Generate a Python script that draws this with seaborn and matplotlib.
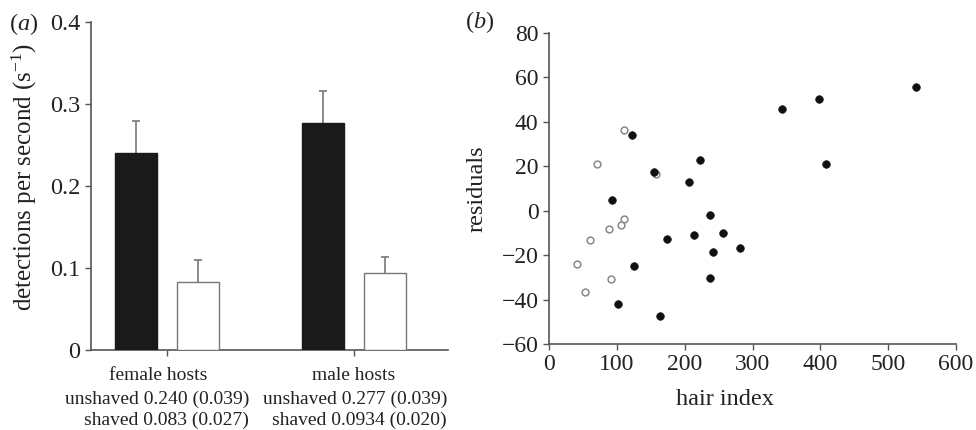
import numpy as np
import pandas as pd
import seaborn as sns
import matplotlib.pyplot as plt
from matplotlib.transforms import blended_transform_factory, ScaledTranslation

# panel (a) data
hosts = ['female hosts', 'male hosts']
treatments = ['unshaved', 'shaved']
unshaved_mean = [0.240, 0.277]
unshaved_se = [0.039, 0.039]
shaved_mean = [0.083, 0.0934]
shaved_se = [0.027, 0.020]
stat_lines = ['unshaved 0.240 (0.039)\nshaved 0.083 (0.027)',
              'unshaved 0.277 (0.039)\nshaved 0.0934 (0.020)']

# panel (b) data
filled_x = [541, 398, 344, 408, 122, 222, 155, 206, 93, 237, 214, 257, 174, 281, 242, 125, 237, 102, 163]
filled_y = [55.7, 50.4, 45.9, 20.9, 33.9, 22.7, 17.4, 12.9, 4.7, -2.1, -10.8, -10.0, -12.6, -16.8, -18.6, -24.7, -30.4, -42.0, -47.3]
open_x = [111, 71, 158, 110, 106, 89, 60, 41, 92, 53]
open_y = [36.2, 21.2, 16.4, -3.7, -6.6, -8.1, -13.0, -24.0, -30.6, -36.6]

sns.set_style('ticks')
plt.rcParams['font.family'] = ['Liberation Serif', 'DejaVu Serif']
plt.rcParams['mathtext.fontset'] = 'custom'
plt.rcParams['mathtext.rm'] = 'Liberation Serif'
plt.rcParams['mathtext.it'] = 'Liberation Serif:italic'
plt.rcParams['font.size'] = 14
plt.rcParams['text.color'] = '#222222'
plt.rcParams['axes.labelcolor'] = '#222222'
plt.rcParams['xtick.color'] = '#555555'
plt.rcParams['ytick.color'] = '#555555'
plt.rcParams['xtick.labelcolor'] = '#222222'
plt.rcParams['ytick.labelcolor'] = '#222222'
plt.rcParams['axes.edgecolor'] = '#555555'

W, H = 976, 430
fig = plt.figure(figsize=(W / 100, H / 100), dpi=100)

def px_axes(left, top, right, bottom):
    return fig.add_axes([left / W, 1 - bottom / H, (right - left) / W, (bottom - top) / H])

# ---------------- panel (a)
ax1 = px_axes(91, 21.7, 448, 350)
df = pd.DataFrame({
    'host': hosts * 2,
    'treatment': [treatments[0]] * 2 + [treatments[1]] * 2,
    'rate': unshaved_mean + shaved_mean,
    'se': unshaved_se + shaved_se,
})
sns.barplot(data=df, x='host', y='rate', hue='treatment', order=hosts, hue_order=treatments,
            palette=['#1a1a1a', 'white'], width=0.664, gap=0.323, errorbar=None,
            legend=False, ax=ax1, zorder=3)
for bar_container, t in zip(ax1.containers, treatments):
    sub = df[df.treatment == t].set_index('host').loc[hosts]
    xs = [p.get_x() + p.get_width() / 2 for p in bar_container.patches]
    for p in bar_container.patches:
        p.set_edgecolor('#1a1a1a' if t == 'unshaved' else '#777777')
        p.set_linewidth(1.0)
        p.set_zorder(3)
    # upper error bars only, no cap at the bar top
    _, caps, _ = ax1.errorbar(xs, sub['rate'], yerr=[np.zeros(len(xs)), sub['se']], fmt='none',
                              ecolor='#777777', elinewidth=1.2, capsize=3, capthick=1.2, zorder=1)
    for c in caps:
        if np.allclose(c.get_ydata(), sub['rate'].values):
            c.set_visible(False)
ax1.set_xlim(-0.406, 1.503)
ax1.set_ylim(0, 0.4)
ax1.set_yticks([0, 0.1, 0.2, 0.3, 0.4])
ax1.set_yticklabels(['0', '0.1', '0.2', '0.3', '0.4'], fontsize=17.5)
ax1.set_xlabel('')
ax1.set_ylabel('detections per second (s$^{-1}$)', fontsize=18)
ax1.yaxis.set_label_coords(-0.145, 0.527)
ax1.tick_params(axis='both', length=4, width=1, direction='out')
ax1.tick_params(axis='x', pad=8)
sns.despine(ax=ax1)
ax1.spines['left'].set_linewidth(1.2)
ax1.spines['bottom'].set_linewidth(1.2)
lab0 = ax1.get_xticklabels()[0]
lab0.set_transform(lab0.get_transform() + ScaledTranslation(-0.09, 0, fig.dpi_scale_trans))
trans = blended_transform_factory(ax1.transData, fig.transFigure)
for xr, txt in zip([0.44, 1.497], stat_lines):
    ax1.text(xr, 1 - 410 / H, txt, transform=trans, ha='right', va='center',
             multialignment='right', linespacing=1.25)
fig.text(9 / W, 1 - 24 / H, '($a$)', ha='left', va='center', fontsize=17.5)

# ---------------- panel (b)
ax2 = px_axes(549, 33, 956, 344)
sns.scatterplot(x=filled_x, y=filled_y, color='#111111', s=30, edgecolor='#111111',
                linewidth=0.5, ax=ax2, zorder=3)
sns.scatterplot(x=open_x, y=open_y, facecolor='white', s=24, edgecolor='#888888',
                linewidth=1.1, ax=ax2, zorder=2)
ax2.set_xlim(0, 600)
ax2.set_ylim(-60, 80)
ax2.set_xticks(range(0, 601, 100))
ax2.set_yticks(range(-60, 81, 20))
ax2.set_yticklabels([str(v).replace('-', '\u2212') for v in range(-60, 81, 20)])
ax2.tick_params(axis='both', labelsize=17)
ax2.set_xlabel('hair index', fontsize=17.5)
ax2.set_ylabel('residuals', fontsize=17.5)
ax2.xaxis.set_label_coords(0.432, -0.145)
ax2.yaxis.set_label_coords(-0.152, 0.5)
ax2.tick_params(axis='both', length=4, width=1, direction='out')
sns.despine(ax=ax2)
ax2.spines['left'].set_linewidth(1.2)
ax2.spines['bottom'].set_linewidth(1.2)
fig.text(465 / W, 1 - 22 / H, '($b$)', ha='left', va='center', fontsize=17.5)

fig.savefig('out.png', dpi=100)
